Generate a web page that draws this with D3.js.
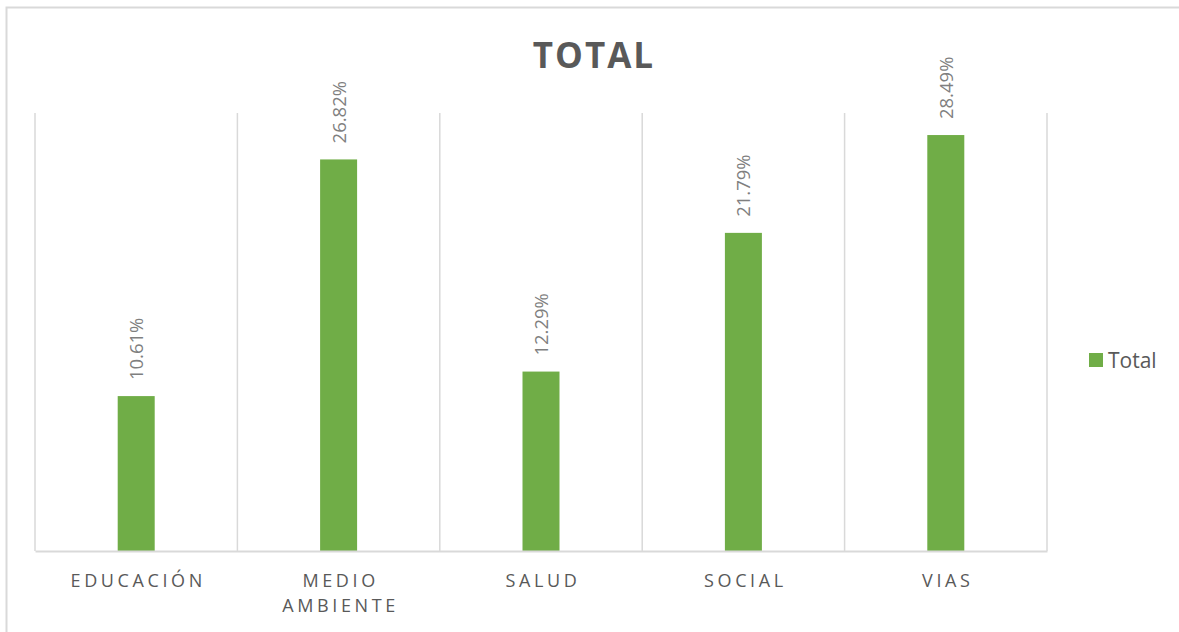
<!DOCTYPE html>
<html>
<head>
<meta charset="utf-8">
<script src="https://cdn.jsdelivr.net/npm/d3@7"></script>
<style>
  html, body { margin: 0; padding: 0; background: #fff; }
  svg { display: block; font-family: "Open Sans", sans-serif; }
</style>
</head>
<body>
<div id="chart"></div>
<script>
// chart data
const categories = ["EDUCACIÓN", "MEDIO AMBIENTE", "SALUD", "SOCIAL", "VIAS"];
const categoryLines = [["EDUCACIÓN"], ["MEDIO", "AMBIENTE"], ["SALUD"], ["SOCIAL"], ["VIAS"]];
const values = [10.61, 26.82, 12.29, 21.79, 28.49];
const valueLabels = ["10.61%", "26.82%", "12.29%", "21.79%", "28.49%"];
const yMax = 30;
const seriesName = "Total";
const title = "TOTAL";

const width = 1179;
const height = 632;
const margin = { top: 113, right: 132, bottom: 81, left: 35 };
const green = "#70ad47";
const gridColor = "#d9d9d9";

const svg = d3.select("#chart").append("svg")
  .attr("width", width)
  .attr("height", height);

// outer frame (runs off the right and bottom edges)
svg.append("rect")
  .attr("x", 6.5).attr("y", 7.5)
  .attr("width", width + 20).attr("height", height + 20)
  .attr("fill", "none")
  .attr("stroke", gridColor)
  .attr("stroke-width", 2);

const x = d3.scaleBand()
  .domain(categories)
  .range([margin.left, width - margin.right])
  .paddingInner(0)
  .paddingOuter(0);

const y = d3.scaleLinear()
  .domain([0, yMax])
  .range([height - margin.bottom, margin.top]);

// vertical gridlines at category boundaries
const bounds = categories.map(c => x(c)).concat([x(categories[categories.length - 1]) + x.bandwidth()]);
svg.append("g")
  .selectAll("line")
  .data(bounds)
  .join("line")
  .attr("x1", d => d).attr("x2", d => d)
  .attr("y1", y(yMax)).attr("y2", y(0))
  .attr("stroke", gridColor)
  .attr("stroke-width", 1.5);

// bars
const barWidth = 37;
svg.append("g")
  .selectAll("rect")
  .data(values)
  .join("rect")
  .attr("x", (d, i) => x(categories[i]) + x.bandwidth() / 2 - barWidth / 2)
  .attr("y", d => y(d))
  .attr("width", barWidth)
  .attr("height", d => y(0) - y(d))
  .attr("fill", green);

// x axis line
const xAxis = svg.append("g")
  .attr("transform", `translate(0,${y(0)})`)
  .call(d3.axisBottom(x).tickSize(0).tickFormat(""));
xAxis.select(".domain").attr("stroke", gridColor).attr("stroke-width", 2);

// category labels
svg.append("g")
  .selectAll("text")
  .data(categoryLines)
  .join("text")
  .attr("x", (d, i) => x(categories[i]) + x.bandwidth() / 2 + 2)
  .attr("y", 587)
  .attr("text-anchor", "middle")
  .attr("fill", "#595959")
  .attr("font-size", 18)
  .attr("letter-spacing", 3.6)
  .each(function (lines) {
    const t = d3.select(this);
    const cx = t.attr("x");
    lines.forEach((line, j) => {
      t.append("tspan").attr("x", cx).attr("dy", j === 0 ? 0 : 25).text(line);
    });
  });

// data labels (rotated)
svg.append("g")
  .selectAll("text")
  .data(values)
  .join("text")
  .attr("transform", (d, i) => `translate(${x(categories[i]) + x.bandwidth() / 2 + 7},${y(d) - 16}) rotate(-90)`)
  .attr("text-anchor", "start")
  .attr("fill", "#7f7f7f")
  .attr("font-size", 18.5)
  .text((d, i) => valueLabels[i]);

// title
svg.append("text")
  .attr("x", 594)
  .attr("y", 68)
  .attr("text-anchor", "middle")
  .attr("fill", "#595959")
  .attr("font-size", 35)
  .attr("font-weight", "bold")
  .attr("letter-spacing", 2)
  .text(title);

// legend
const legend = svg.append("g").attr("transform", "translate(1089,353)");
legend.append("rect")
  .attr("width", 14).attr("height", 14)
  .attr("fill", green);
legend.append("text")
  .attr("x", 19).attr("y", 14.5)
  .attr("fill", "#595959")
  .attr("font-size", 21)
  .text(seriesName);
</script>
</body>
</html>
